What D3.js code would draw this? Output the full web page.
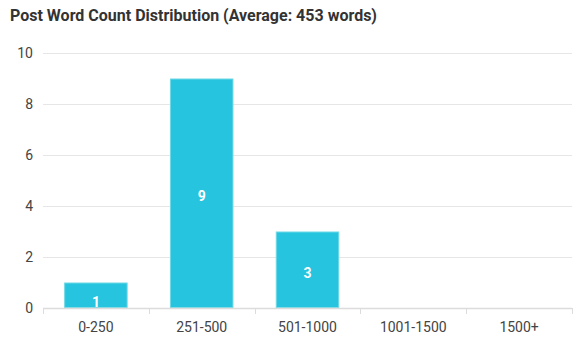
<!DOCTYPE html>
<html><head><meta charset="utf-8">
<script src="https://cdn.jsdelivr.net/npm/d3@7"></script>
<style>body{margin:0;background:#fff;font-family:Roboto,"Noto Sans",sans-serif}</style>
</head><body><svg id="c" width="582" height="350"></svg>
<script>
const categories = ["0-250","251-500","501-1000","1001-1500","1500+"];
const counts = [1,9,3,0,0];
const yTicks = [0,2,4,6,8,10];
const title = "Post Word Count Distribution (Average: 453 words)";

const svg = d3.select("#c");
const W=582,H=350, m={l:43,r:10,t:53,b:42};
const x = d3.scaleBand().domain(categories).range([m.l, W-m.r]).padding(0);
const y = d3.scaleLinear().domain([0,10]).range([H-m.b, m.t]);

svg.append("text").attr("x",10).attr("y",21).attr("font-size",16).attr("font-weight","bold")
  .attr("fill","#333").text(title);

// grid
svg.append("g").selectAll("line").data(yTicks.filter(d=>d>0)).join("line")
  .attr("x1",m.l).attr("x2",W-m.r).attr("y1",d=>y(d)+0.5).attr("y2",d=>y(d)+0.5)
  .attr("stroke","#e6e6e6").attr("stroke-width",1);

// y labels
svg.append("g").selectAll("text").data(yTicks).join("text")
  .attr("x",33).attr("y",d=>y(d)).attr("dy","0.35em").attr("text-anchor","end")
  .attr("font-size",14).attr("fill","#444").text(d=>d);

// bars
const bw = x.bandwidth()*0.6, off = x.bandwidth()*0.2;
svg.append("defs").selectAll("clipPath").data(categories).join("clipPath")
  .attr("id",(d,i)=>"cl"+i).append("rect")
  .attr("x",d=>x(d)+off).attr("width",bw)
  .attr("y",(d,i)=>y(counts[i])).attr("height",(d,i)=>y(0)-y(counts[i]));
svg.append("g").selectAll("rect").data(categories).join("rect")
  .attr("x",d=>x(d)+off+0.5).attr("width",bw-1)
  .attr("y",(d,i)=>y(counts[i])+0.5).attr("height",(d,i)=>Math.max(0,y(0)-y(counts[i])-1))
  .attr("fill","#26c4de").attr("stroke","#6fd8e6").attr("stroke-width",1)
  .style("display",(d,i)=>counts[i]>0?null:"none");

// value labels
svg.append("g").selectAll("text").data(categories).join("text")
  .attr("clip-path",(d,i)=>`url(#cl${i})`)
  .attr("x",d=>x(d)+x.bandwidth()/2)
  .attr("y",(d,i)=>(y(0)-y(counts[i]))<30 ? y(0)-6 : y(counts[i]/2)+3).attr("dy","0.36em")
  .attr("text-anchor","middle").attr("font-size",14).attr("font-weight","bold").attr("fill","#fff")
  .text((d,i)=>counts[i]>0?counts[i]:"");

// x axis line & ticks
svg.append("line").attr("x1",m.l).attr("x2",W-m.r).attr("y1",y(0)+0.5).attr("y2",y(0)+0.5)
  .attr("stroke","#dcdcdc").attr("stroke-width",1.5);
const bounds = categories.map(d=>x(d)).concat([W-m.r]);
svg.append("g").selectAll("line").data(bounds).join("line")
  .attr("x1",d=>Math.round(d)+0.5).attr("x2",d=>Math.round(d)+0.5)
  .attr("y1",y(0)).attr("y2",y(0)+6).attr("stroke","#dcdcdc");

svg.append("g").selectAll("text").data(categories).join("text")
  .attr("x",d=>x(d)+x.bandwidth()/2).attr("y",332).attr("text-anchor","middle")
  .attr("font-size",14).attr("fill","#444").text(d=>d);
</script></body></html>
